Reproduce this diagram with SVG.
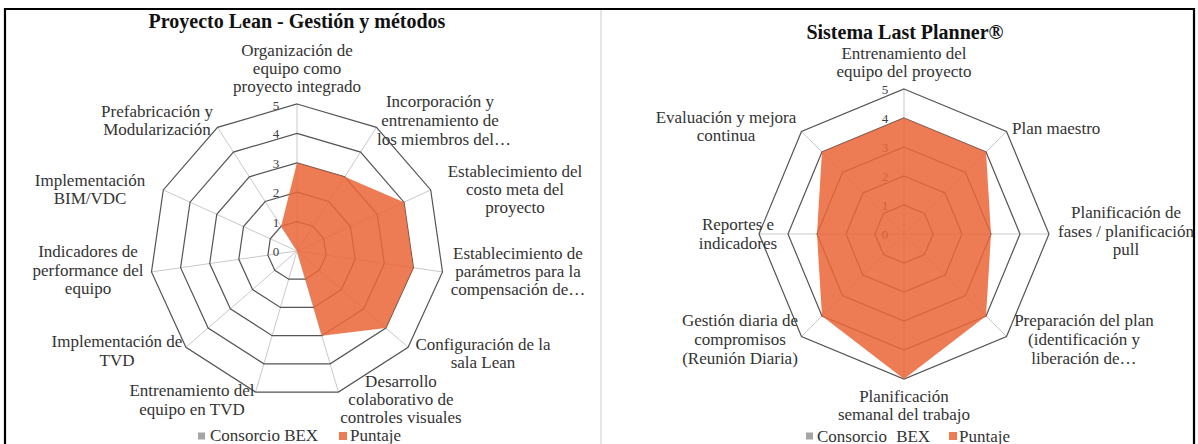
<svg xmlns="http://www.w3.org/2000/svg" width="1198" height="444" viewBox="0 0 1198 444">
<style>
svg{background:#fff}
text{font-family:'Liberation Serif','Times New Roman','DejaVu Serif',serif}
.lbl{font-size:17px;fill:#333;text-anchor:middle}
.st{text-anchor:start}
.ttl{font-size:20px;font-weight:bold;fill:#111;text-anchor:middle}
.val{font-size:13px;fill:#404040;text-anchor:middle}
.ring{fill:none;stroke:#555;stroke-width:1.2}
.spoke{stroke:#c9c9c9;stroke-width:1}
.data{fill:#EA6538;fill-opacity:0.86;stroke:none}
.frame{stroke:#000;stroke-width:2.2;fill:none}
</style>
<rect width="1198" height="444" fill="#fff"/>
<g id="frame">
<path class="frame" d="M5,444 V9 H1194 V444"/>
<line x1="601" y1="10" x2="601" y2="444" stroke="#d4d4d4" stroke-width="1.2"/>
</g>

<g id="chart-left" font-family="Liberation Serif, Times New Roman, serif">
<text class="ttl" x="297" y="28">Proyecto Lean - Gestión y métodos</text>
<g id="left-grid">
<g class="spoke">
<line x1="297" y1="251" x2="297" y2="104"/>
<line x1="297" y1="251" x2="376.47" y2="127.33"/>
<line x1="297" y1="251" x2="430.71" y2="189.94"/>
<line x1="297" y1="251" x2="442.5" y2="271.92"/>
<line x1="297" y1="251" x2="408.09" y2="347.27"/>
<line x1="297" y1="251" x2="338.41" y2="392.05"/>
<line x1="297" y1="251" x2="255.59" y2="392.05"/>
<line x1="297" y1="251" x2="185.91" y2="347.27"/>
<line x1="297" y1="251" x2="151.5" y2="271.92"/>
<line x1="297" y1="251" x2="163.29" y2="189.94"/>
<line x1="297" y1="251" x2="217.53" y2="127.33"/>
</g>
<polygon class="ring" points="297,221.6 312.89,226.27 323.74,238.79 326.1,255.18 319.22,270.25 305.28,279.21 288.72,279.21 274.78,270.25 267.9,255.18 270.26,238.79 281.11,226.27"/>
<polygon class="ring" points="297,192.2 328.79,201.53 350.48,226.57 355.2,259.37 341.43,289.51 313.56,307.42 280.44,307.42 252.57,289.51 238.8,259.37 243.52,226.57 265.21,201.53"/>
<polygon class="ring" points="297,162.8 344.68,176.8 377.23,214.36 384.3,263.55 363.65,308.76 321.85,335.63 272.15,335.63 230.35,308.76 209.7,263.55 216.77,214.36 249.32,176.8"/>
<polygon class="ring" points="297,133.4 360.57,152.06 403.97,202.15 413.4,267.73 385.87,328.02 330.13,363.84 263.87,363.84 208.13,328.02 180.6,267.73 190.03,202.15 233.43,152.06"/>
<polygon class="ring" points="297,104 376.47,127.33 430.71,189.94 442.5,271.92 408.09,347.27 338.41,392.05 255.59,392.05 185.91,347.27 151.5,271.92 163.29,189.94 217.53,127.33"/>
</g>
<g id="left-scale">
<text class="val" x="276" y="256">0</text>
<text class="val" x="276" y="226.6">1</text>
<text class="val" x="276" y="197.2">2</text>
<text class="val" x="276" y="167.8">3</text>
<text class="val" x="276" y="138.4">4</text>
<text class="val" x="276" y="109.5">5</text>
</g>
<polygon id="left-puntaje" class="data" points="297,162.8 344.68,176.8 403.97,202.15 413.4,267.73 385.87,328.02 321.85,335.63 297,251 297,251 297,251 297,251 281.11,226.27"/>
<g id="L1"><text class="lbl" x="297" y="56">Organización de</text><text class="lbl" x="297" y="74">equipo como</text><text class="lbl" x="297" y="92">proyecto integrado</text></g>
<g id="L2"><text class="lbl" x="440" y="107">Incorporación y</text><text class="lbl" x="440" y="126">entrenamiento de</text><text class="lbl" x="444" y="145">los miembros del…</text></g>
<g id="L3"><text class="lbl" x="515" y="177">Establecimiento del</text><text class="lbl" x="515" y="195">costo meta del</text><text class="lbl" x="515" y="213">proyecto</text></g>
<g id="L4"><text class="lbl" x="518" y="259">Establecimiento de</text><text class="lbl" x="518" y="277">parámetros para la</text><text class="lbl" x="518" y="295">compensación de…</text></g>
<g id="L5"><text class="lbl" x="483" y="350">Configuración de la</text><text class="lbl" x="483" y="368">sala Lean</text></g>
<g id="L6"><text class="lbl" x="401" y="387">Desarrollo</text><text class="lbl" x="401" y="405">colaborativo de</text><text class="lbl" x="401" y="423">controles visuales</text></g>
<g id="L7"><text class="lbl" x="192" y="396">Entrenamiento del</text><text class="lbl" x="192" y="415">equipo en TVD</text></g>
<g id="L8"><text class="lbl" x="117" y="347">Implementación de</text><text class="lbl" x="117" y="366">TVD</text></g>
<g id="L9"><text class="lbl" x="88" y="257">Indicadores de</text><text class="lbl" x="88" y="276">performance del</text><text class="lbl" x="88" y="294">equipo</text></g>
<g id="L10"><text class="lbl" x="90" y="186">Implementación</text><text class="lbl" x="90" y="204">BIM/VDC</text></g>
<g id="L11"><text class="lbl" x="157" y="117">Prefabricación y</text><text class="lbl" x="157" y="135">Modularización</text></g>
<g id="left-legend">
<rect x="198" y="432.5" width="7" height="7" fill="#a5a5a5"/>
<text class="lbl st" x="210" y="441">Consorcio BEX</text>
<rect x="339" y="432" width="8" height="8" class="data"/>
<text class="lbl st" x="350" y="441">Puntaje</text>
</g>
</g>

<g id="chart-right" font-family="Liberation Serif, Times New Roman, serif">
<text class="ttl" x="905" y="39">Sistema Last Planner®</text>
<g id="right-grid">
<g class="spoke">
<line x1="904" y1="234" x2="904" y2="89"/>
<line x1="904" y1="234" x2="1006.53" y2="131.47"/>
<line x1="904" y1="234" x2="1049" y2="234"/>
<line x1="904" y1="234" x2="1006.53" y2="336.53"/>
<line x1="904" y1="234" x2="904" y2="379"/>
<line x1="904" y1="234" x2="801.47" y2="336.53"/>
<line x1="904" y1="234" x2="759" y2="234"/>
<line x1="904" y1="234" x2="801.47" y2="131.47"/>
</g>
<polygon class="ring" points="904,205 924.51,213.49 933,234 924.51,254.51 904,263 883.49,254.51 875,234 883.49,213.49"/>
<polygon class="ring" points="904,176 945.01,192.99 962,234 945.01,275.01 904,292 862.99,275.01 846,234 862.99,192.99"/>
<polygon class="ring" points="904,147 965.52,172.48 991,234 965.52,295.52 904,321 842.48,295.52 817,234 842.48,172.48"/>
<polygon class="ring" points="904,118 986.02,151.98 1020,234 986.02,316.02 904,350 821.98,316.02 788,234 821.98,151.98"/>
<polygon class="ring" points="904,89 1006.53,131.47 1049,234 1006.53,336.53 904,379 801.47,336.53 759,234 801.47,131.47"/>
</g>
<g id="right-scale">
<text class="val" x="885" y="239">0</text>
<text class="val" x="885" y="210">1</text>
<text class="val" x="885" y="181">2</text>
<text class="val" x="885" y="152">3</text>
<text class="val" x="885" y="123">4</text>
<text class="val" x="885" y="94">5</text>
</g>
<polygon id="right-puntaje" class="data" points="904,118 986.02,151.98 991,234 986.02,316.02 904,379 821.98,316.02 817,234 821.98,151.98"/>
<g id="R1"><text class="lbl" x="904" y="59">Entrenamiento del</text><text class="lbl" x="904" y="77">equipo del proyecto</text></g>
<g id="R2"><text class="lbl st" x="1012" y="134">Plan maestro</text></g>
<g id="R3"><text class="lbl" x="1126" y="218">Planificación de</text><text class="lbl" x="1126" y="237">fases / planificación</text><text class="lbl" x="1126" y="255">pull</text></g>
<g id="R4"><text class="lbl" x="1084" y="326">Preparación del plan</text><text class="lbl" x="1084" y="345">(identificación y</text><text class="lbl" x="1084" y="364">liberación de…</text></g>
<g id="R5"><text class="lbl" x="904" y="402">Planificación</text><text class="lbl" x="904" y="420">semanal del trabajo</text></g>
<g id="R6"><text class="lbl" x="740" y="326">Gestión diaria de</text><text class="lbl" x="740" y="345">compromisos</text><text class="lbl" x="740" y="364">(Reunión Diaria)</text></g>
<g id="R7"><text class="lbl" x="738" y="230">Reportes e</text><text class="lbl" x="738" y="249">indicadores</text></g>
<g id="R8"><text class="lbl" x="726" y="123">Evaluación y mejora</text><text class="lbl" x="726" y="141">continua</text></g>
<g id="right-legend">
<rect x="806" y="432.5" width="7" height="7" fill="#a5a5a5"/>
<text class="lbl st" x="817" y="442" word-spacing="5">Consorcio BEX</text>
<rect x="949" y="432" width="8" height="8" class="data"/>
<text class="lbl st" x="959" y="442">Puntaje</text>
</g>
</g>
</svg>
